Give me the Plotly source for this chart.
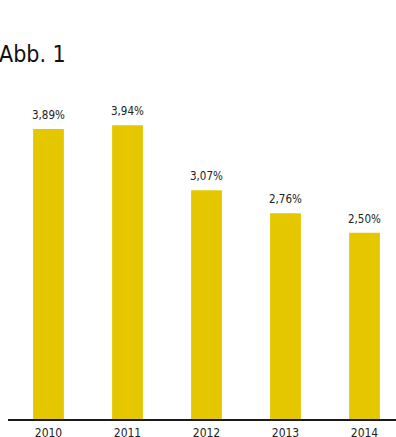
import plotly.graph_objects as go

years = ["2010", "2011", "2012", "2013", "2014"]
rates = [3.89, 3.94, 3.07, 2.76, 2.50]
labels = [f"{v:.2f}".replace(".", ",") + "%" for v in rates]

W, H = 396, 437
left, bottom, top = 8, 18, 100
px_per_cat = 79.0
plot_w = W - left
plot_h = H - bottom - top
px_per_unit = 74.55

font = "Liberation Sans Narrow, DejaVu Sans Condensed, sans-serif"

fig = go.Figure(
    go.Bar(
        x=list(range(len(years))),
        y=rates,
        width=0.39,
        marker=dict(color="#E5C700", line=dict(width=0)),
        hoverinfo="skip",
    )
)

# value labels above each bar
for i, (v, lab) in enumerate(zip(rates, labels)):
    fig.add_annotation(
        x=i, y=v, text=lab,
        xanchor="center", yanchor="bottom",
        yshift=5, showarrow=False,
        font=dict(family=font, size=11.5, color="#222"),
    )

x0 = -40.5 / px_per_cat
fig.update_xaxes(
    range=[x0, x0 + plot_w / px_per_cat],
    tickmode="array",
    tickvals=list(range(len(years))),
    ticktext=years,
    tickfont=dict(family=font, size=12, color="#222"),
    ticklabelstandoff=2,
    automargin=False,
    showline=True,
    linecolor="#1a1a1a",
    linewidth=1.5,
    showgrid=False,
    zeroline=False,
    ticks="",
)
fig.update_yaxes(
    range=[0, plot_h / px_per_unit],
    visible=False,
    showgrid=False,
    zeroline=False,
)

fig.add_annotation(
    text="Abb. 1",
    xref="paper", yref="paper",
    x=(-left - 3) / plot_w, y=1 + (100 - 54) / plot_h,
    xanchor="left", yanchor="middle",
    showarrow=False,
    font=dict(family=font, size=23, color="#111"),
)

fig.update_layout(
    width=W, height=H,
    margin=dict(l=left, r=0, t=top, b=bottom, pad=0),
    paper_bgcolor="white",
    plot_bgcolor="white",
    showlegend=False,
)

fig.write_html("out.html")
